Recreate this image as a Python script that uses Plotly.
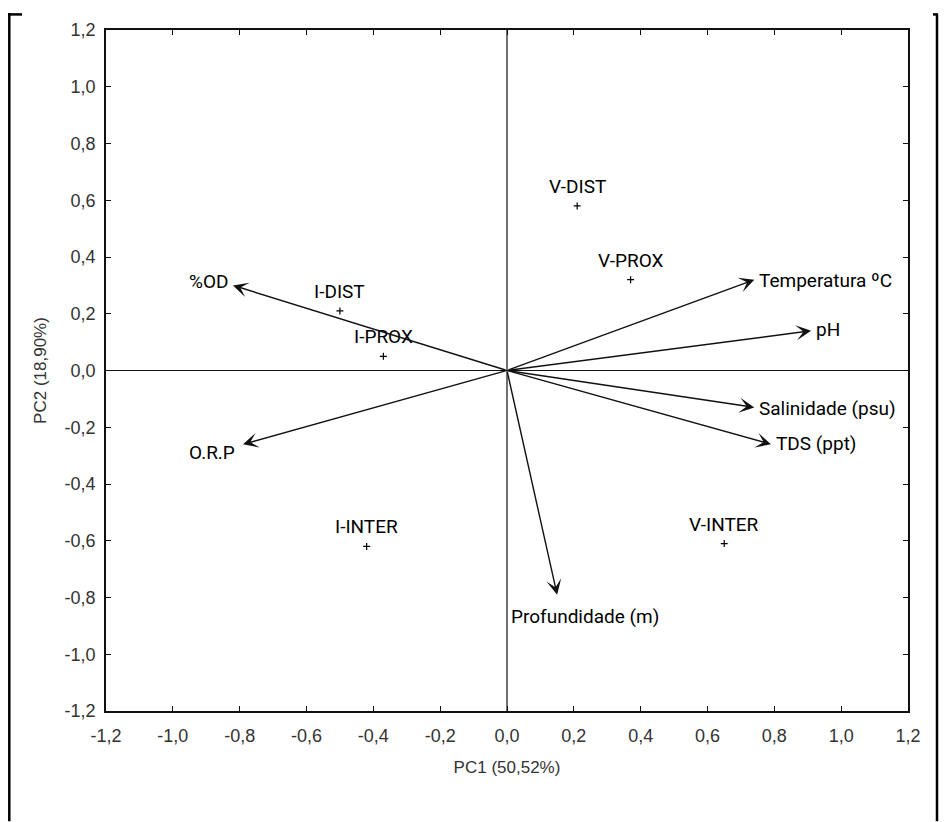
import plotly.graph_objects as go

# Sample scores
sample_names = ["V-DIST", "V-PROX", "I-DIST", "I-PROX", "I-INTER", "V-INTER"]
sample_pc1 = [0.21, 0.37, -0.50, -0.37, -0.42, 0.65]
sample_pc2 = [0.58, 0.32, 0.21, 0.05, -0.62, -0.61]

# Variable loadings (arrow tips)
var_names = ["%OD", "O.R.P", "Temperatura ºC", "pH", "Salinidade (psu)", "TDS (ppt)", "Profundidade (m)"]
var_pc1 = [-0.82, -0.79, 0.74, 0.91, 0.74, 0.79, 0.15]
var_pc2 = [0.30, -0.26, 0.32, 0.14, -0.13, -0.26, -0.79]

tick_vals = [-1.2, -1.0, -0.8, -0.6, -0.4, -0.2, 0.0, 0.2, 0.4, 0.6, 0.8, 1.0, 1.2]
tick_text = ["-1,2", "-1,0", "-0,8", "-0,6", "-0,4", "-0,2", "0,0", "0,2", "0,4", "0,6", "0,8", "1,0", "1,2"]

# page body has an 8px margin; figure sized/offset accordingly
W, H = 940, 814
L, R, T, B = 98, 40, 17, 111
pw, ph = W - L - R, H - T - B

def px(x):
    return (x - L) / pw

def py(y):
    return (H - B - y) / ph

label_font = dict(family="Roboto, Liberation Sans, Arial", size=19, color="#000")
tick_font = dict(family="Liberation Sans, Arial", size=18, color="#333")
title_font = dict(family="Liberation Sans, Arial", size=17, color="#333")

fig = go.Figure()

fig.add_trace(go.Scatter(
    x=sample_pc1, y=sample_pc2, mode="markers",
    marker=dict(symbol="cross-thin", size=5, line=dict(width=1.2, color="#000")),
    hoverinfo="skip", showlegend=False, cliponaxis=False,
))
for name, xv, yv in zip(sample_names, sample_pc1, sample_pc2):
    fig.add_annotation(
        x=xv, y=yv, xref="x", yref="y", text=name, showarrow=False,
        xanchor="center", yanchor="bottom", yshift=6, font=label_font,
    )

for xv, yv in zip(var_pc1, var_pc2):
    fig.add_annotation(
        x=xv, y=yv, ax=0, ay=0, xref="x", yref="y", axref="x", ayref="y",
        showarrow=True, arrowhead=3, arrowsize=1.8, arrowwidth=1.4,
        arrowcolor="#111", standoff=0, text="",
    )

# label placement per variable (style only)
lab_xanchor = ["right", "right", "left", "left", "left", "left", "center"]
lab_yanchor = ["middle", "middle", "middle", "middle", "middle", "middle", "top"]
lab_xshift = [-3, -6, 3, 3, 3, 3, 28]
lab_yshift = [4, -8, -1, 1, -1, 1, -8]
for name, xv, yv, xa, ya, xs, ys in zip(var_names, var_pc1, var_pc2, lab_xanchor, lab_yanchor, lab_xshift, lab_yshift):
    fig.add_annotation(
        x=xv, y=yv, xref="x", yref="y", text=name, showarrow=False,
        xanchor=xa, yanchor=ya, xshift=xs, yshift=ys, font=label_font,
    )

# zero lines
fig.add_shape(type="line", x0=0, x1=0, y0=-1.2, y1=1.2, xref="x", yref="y",
              line=dict(color="#111", width=1.2))
fig.add_shape(type="line", x0=-1.2, x1=1.2, y0=0, y1=0, xref="x", yref="y",
              line=dict(color="#111", width=1.2))

# outer page frame marks
frame = dict(color="#000", width=2.5)
fig.add_shape(type="line", xref="paper", yref="paper", x0=px(1.3), x1=px(1.3), y0=py(0), y1=py(H), line=frame)
fig.add_shape(type="line", xref="paper", yref="paper", x0=px(0), x1=px(14), y0=py(1.3), y1=py(1.3), line=frame)
fig.add_shape(type="line", xref="paper", yref="paper", x0=px(929), x1=px(929), y0=py(1.3), y1=py(H), line=frame)
fig.add_shape(type="line", xref="paper", yref="paper", x0=px(925), x1=px(930), y0=py(1.3), y1=py(1.3), line=frame)

axis_common = dict(
    range=[-1.2, 1.2], tickvals=tick_vals, ticktext=tick_text,
    ticks="inside", ticklen=5, tickwidth=1, tickcolor="#111",
    showline=True, linecolor="#111", linewidth=1.5, mirror="allticks",
    showgrid=False, zeroline=False, tickfont=tick_font,
)

fig.update_layout(
    width=W, height=H, margin=dict(l=L, r=R, t=T, b=B),
    paper_bgcolor="white", plot_bgcolor="white",
    xaxis=dict(**axis_common, ticklabelstandoff=8,
               title=dict(text="PC1 (50,52%)", font=title_font, standoff=16)),
    yaxis=dict(**axis_common, ticklabelstandoff=5,
               title=dict(text="PC2 (18,90%)", font=title_font, standoff=14)),
)

fig.write_html("out.html")
